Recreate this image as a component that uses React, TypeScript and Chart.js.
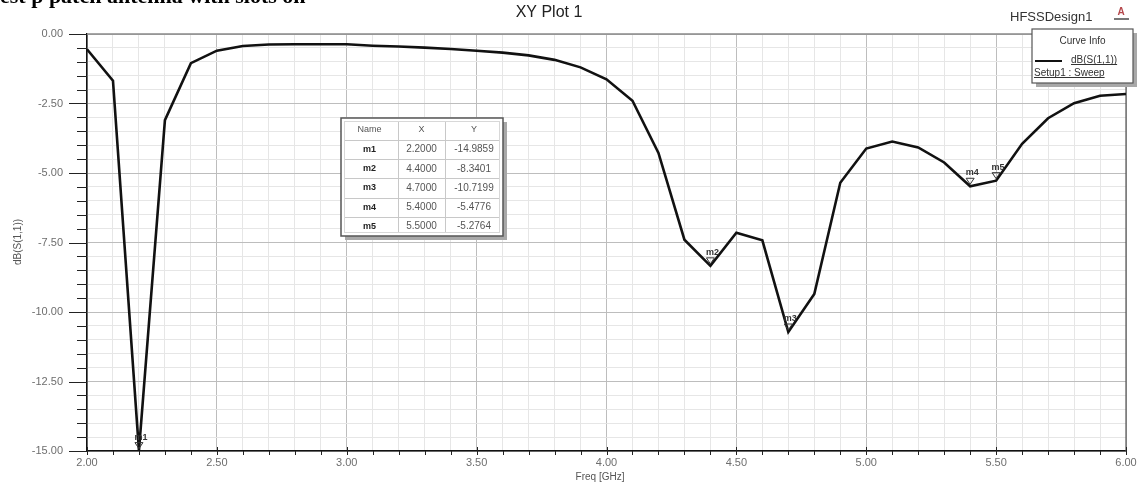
import React, { useEffect, useRef } from 'react';
import { Chart, registerables } from 'chart.js';

Chart.register(...registerables);

const freqGHz = [
  2.0, 2.1, 2.2, 2.3, 2.4, 2.5, 2.6, 2.7, 2.8, 2.9, 3.0,
  3.1, 3.2, 3.3, 3.4, 3.5, 3.6, 3.7, 3.8, 3.9, 4.0,
  4.1, 4.2, 4.3, 4.4, 4.5, 4.6, 4.7, 4.8, 4.9, 5.0,
  5.1, 5.2, 5.3, 5.4, 5.5, 5.6, 5.7, 5.8, 5.9, 6.0,
];
const s11dB = [
  -0.55, -1.68, -14.9859, -3.1, -1.05, -0.6, -0.43, -0.38, -0.37, -0.37, -0.37,
  -0.42, -0.45, -0.49, -0.54, -0.6, -0.67, -0.77, -0.93, -1.2, -1.63,
  -2.4, -4.28, -7.4, -8.3401, -7.15, -7.42, -10.7199, -9.35, -5.35, -4.12,
  -3.87, -4.08, -4.62, -5.4776, -5.2764, -3.95, -3.03, -2.49, -2.22, -2.16,
];

const markerNames = ['m1', 'm2', 'm3', 'm4', 'm5'];
const markerX = [2.2, 4.4, 4.7, 5.4, 5.5];
const markerY = [-14.9859, -8.3401, -10.7199, -5.4776, -5.2764];
const tableHeaders = ['Name', 'X', 'Y'];

const plotTitle = 'XY Plot 1';
const designName = 'HFSSDesign1';
const xAxisTitle = 'Freq [GHz]';
const yAxisTitle = 'dB(S(1,1))';
const legendTitle = 'Curve Info';
const legendTrace = 'dB(S(1,1))';
const legendSetup = 'Setup1 : Sweep';
const captionText = 'est p patch antenna with slots on';

const SANS = '"Liberation Sans", Arial, sans-serif';
const TICK_COLOR = '#6e6e6e';

const isMultiple = (v: number, step: number) => Math.abs(v / step - Math.round(v / step)) < 1e-6;

const underline = (ctx: CanvasRenderingContext2D, text: string, x: number, y: number) => {
  const w = ctx.measureText(text).width;
  ctx.beginPath();
  ctx.moveTo(x, y + 0.5);
  ctx.lineTo(x + w, y + 0.5);
  ctx.stroke();
};

const decorPlugin = {
  id: 'hfssDecor',
  beforeDatasetsDraw(chart: any) {
    const ctx: CanvasRenderingContext2D = chart.ctx;
    const xs = chart.scales.x;
    const ys = chart.scales.y;
    const area = chart.chartArea;
    ctx.save();
    ctx.strokeStyle = '#8a8a8a';
    ctx.lineWidth = 1.5;
    ctx.beginPath();
    ctx.moveTo(area.left, area.top);
    ctx.lineTo(area.right, area.top);
    ctx.stroke();
    ctx.strokeStyle = '#555';
    ctx.lineWidth = 1.2;
    ctx.beginPath();
    ctx.moveTo(area.right, area.top);
    ctx.lineTo(area.right, area.bottom);
    ctx.stroke();
    ctx.strokeStyle = '#222';
    ctx.lineWidth = 1;
    xs.ticks.forEach((t: any) => {
      const px = Math.round(xs.getPixelForValue(t.value)) + 0.5;
      const major = isMultiple(t.value, 0.5);
      ctx.beginPath();
      ctx.moveTo(px, area.bottom + (major ? -4 : 0));
      ctx.lineTo(px, area.bottom + 4);
      ctx.stroke();
    });
    ys.ticks.forEach((t: any) => {
      const py = Math.round(ys.getPixelForValue(t.value)) + 0.5;
      const major = isMultiple(t.value, 2.5);
      ctx.beginPath();
      ctx.moveTo(area.left - (major ? 18 : 10), py);
      ctx.lineTo(area.left, py);
      ctx.stroke();
    });
    ctx.restore();
  },
  afterDraw(chart: any) {
    const ctx: CanvasRenderingContext2D = chart.ctx;
    const xs = chart.scales.x;
    const ys = chart.scales.y;
    ctx.save();

    ctx.fillStyle = '#000';
    ctx.font = 'bold 22px "Liberation Serif", "Times New Roman", serif';
    ctx.textAlign = 'left';
    ctx.textBaseline = 'alphabetic';
    ctx.fillText(captionText, 0, 3);

    ctx.fillStyle = '#222';
    ctx.font = `16px ${SANS}`;
    ctx.textAlign = 'center';
    ctx.textBaseline = 'middle';
    ctx.fillText(plotTitle, 549, 13);

    ctx.font = `13px ${SANS}`;
    ctx.textAlign = 'left';
    ctx.fillStyle = '#333';
    ctx.fillText(designName, 1010, 17);

    ctx.fillStyle = '#b5474b';
    ctx.font = `bold 10px ${SANS}`;
    ctx.textAlign = 'center';
    ctx.fillText('A', 1121, 12);
    ctx.fillStyle = '#777';
    ctx.fillRect(1114, 18, 15, 2);

    ctx.fillStyle = '#555';
    ctx.font = `10px ${SANS}`;
    ctx.textAlign = 'center';
    ctx.fillText(xAxisTitle, 600, 477);
    ctx.save();
    ctx.translate(18, 242);
    ctx.rotate(-Math.PI / 2);
    ctx.fillText(yAxisTitle, 0, 0);
    ctx.restore();

    markerNames.forEach((name, i) => {
      const px = xs.getPixelForValue(markerX[i]);
      const py = ys.getPixelForValue(markerY[i]);
      ctx.strokeStyle = '#333';
      ctx.lineWidth = 1;
      ctx.beginPath();
      ctx.moveTo(px, py - 2);
      ctx.lineTo(px - 4, py - 8);
      ctx.lineTo(px + 4, py - 8);
      ctx.closePath();
      ctx.stroke();
      ctx.fillStyle = '#333';
      ctx.font = `bold 9px ${SANS}`;
      ctx.textAlign = 'center';
      ctx.textBaseline = 'alphabetic';
      ctx.fillText(name, px + 2, py - 11);
    });

    const tx = 341, ty = 118;
    const colW = [57, 47, 58];
    const headerH = 22, rowH = 19.2;
    const W = colW[0] + colW[1] + colW[2];
    const H = headerH + rowH * markerNames.length;
    ctx.fillStyle = '#a8a8a8';
    ctx.fillRect(tx + 4, ty + 4, W, H);
    ctx.fillStyle = '#fff';
    ctx.fillRect(tx, ty, W, H);
    ctx.strokeStyle = '#c8c8c8';
    ctx.lineWidth = 1;
    let cx = tx;
    for (let c = 0; c < colW.length - 1; c++) {
      cx += colW[c];
      ctx.beginPath();
      ctx.moveTo(Math.round(cx) + 0.5, ty + 3);
      ctx.lineTo(Math.round(cx) + 0.5, ty + H - 3);
      ctx.stroke();
    }
    for (let r = 0; r < markerNames.length; r++) {
      const ry = Math.round(ty + headerH + r * rowH) + 0.5;
      ctx.beginPath();
      ctx.moveTo(tx + 3, ry);
      ctx.lineTo(tx + W - 3, ry);
      ctx.stroke();
    }
    ctx.strokeStyle = '#d8d8d8';
    ctx.strokeRect(tx + 3.5, ty + 3.5, W - 7, H - 7);
    ctx.strokeStyle = '#555';
    ctx.lineWidth = 1.5;
    ctx.strokeRect(tx, ty, W, H);
    ctx.textAlign = 'center';
    ctx.textBaseline = 'middle';
    const colCenters = [tx + colW[0] / 2, tx + colW[0] + colW[1] / 2, tx + colW[0] + colW[1] + colW[2] / 2];
    ctx.fillStyle = '#555';
    ctx.font = `9px ${SANS}`;
    tableHeaders.forEach((h, c) => ctx.fillText(h, colCenters[c], ty + headerH / 2 + 1));
    markerNames.forEach((name, r) => {
      const cy = ty + headerH + r * rowH + rowH / 2;
      ctx.fillStyle = '#222';
      ctx.font = `bold 9px ${SANS}`;
      ctx.fillText(name, colCenters[0], cy);
      ctx.fillStyle = '#555';
      ctx.font = `10px ${SANS}`;
      ctx.fillText(markerX[r].toFixed(4), colCenters[1], cy);
      ctx.fillText(markerY[r].toFixed(4), colCenters[2], cy);
    });

    const lx = 1032, ly = 29, lw = 101, lh = 54;
    ctx.fillStyle = '#a8a8a8';
    ctx.fillRect(lx + 4, ly + 4, lw, lh);
    ctx.fillStyle = '#fff';
    ctx.fillRect(lx, ly, lw, lh);
    ctx.strokeStyle = '#555';
    ctx.lineWidth = 1.2;
    ctx.strokeRect(lx, ly, lw, lh);
    ctx.fillStyle = '#333';
    ctx.font = `10px ${SANS}`;
    ctx.textAlign = 'center';
    ctx.textBaseline = 'middle';
    ctx.fillText(legendTitle, lx + lw / 2, ly + 12);
    ctx.strokeStyle = '#111';
    ctx.lineWidth = 2;
    ctx.beginPath();
    ctx.moveTo(lx + 3, ly + 32);
    ctx.lineTo(lx + 30, ly + 32);
    ctx.stroke();
    ctx.textAlign = 'left';
    ctx.textBaseline = 'alphabetic';
    ctx.fillStyle = '#333';
    ctx.strokeStyle = '#333';
    ctx.lineWidth = 1;
    ctx.fillText(legendTrace, lx + 39, ly + 34);
    underline(ctx, legendTrace, lx + 39, ly + 35);
    ctx.fillText(legendSetup, lx + 2, ly + 47);
    underline(ctx, legendSetup, lx + 2, ly + 48);

    ctx.restore();
  },
};

export default function App() {
  const canvasRef = useRef<HTMLCanvasElement | null>(null);

  useEffect(() => {
    if (!canvasRef.current) return;
    const points = freqGHz.map((f, i) => ({ x: f, y: s11dB[i] }));
    const chart = new Chart(canvasRef.current, {
      type: 'line',
      data: {
        datasets: [
          {
            label: legendTrace,
            data: points,
            borderColor: '#111',
            borderWidth: 2.6,
            pointRadius: 0,
            tension: 0,
            fill: false,
          },
        ],
      },
      options: {
        animation: false,
        responsive: false,
        layout: { padding: { top: 34, right: 18, left: 0, bottom: 0 } },
        plugins: {
          legend: { display: false },
          tooltip: { enabled: false },
          title: { display: false },
        },
        scales: {
          x: {
            type: 'linear',
            min: 2,
            max: 6,
            afterFit(scale: any) {
              scale.height = 36;
            },
            ticks: {
              stepSize: 0.1,
              autoSkip: false,
              maxRotation: 0,
              minRotation: 0,
              padding: 5,
              color: TICK_COLOR,
              font: { family: SANS, size: 11 },
              callback: (v: any) => (isMultiple(Number(v), 0.5) ? Number(v).toFixed(2) : ''),
            },
            grid: {
              drawTicks: false,
              color: (c: any) => (c.tick && isMultiple(c.tick.value, 0.5) ? '#bdbdbd' : '#e6e6e6'),
              lineWidth: 1,
            },
            border: { color: '#111', width: 1.5 },
          },
          y: {
            type: 'linear',
            min: -15,
            max: 0,
            afterFit(scale: any) {
              scale.width = 87;
            },
            ticks: {
              stepSize: 0.5,
              autoSkip: false,
              padding: 24,
              color: TICK_COLOR,
              font: { family: SANS, size: 11 },
              callback: (v: any) => (isMultiple(Number(v), 2.5) ? Number(v).toFixed(2) : ''),
            },
            grid: {
              drawTicks: false,
              color: (c: any) => (c.tick && isMultiple(c.tick.value, 2.5) ? '#bdbdbd' : '#e6e6e6'),
              lineWidth: 1,
            },
            border: { color: '#111', width: 1.5 },
          },
        },
      },
      plugins: [decorPlugin],
    });
    return () => chart.destroy();
  }, []);

  return (
    <div style={{ position: 'fixed', left: 0, top: 0, width: 1144, height: 487, background: '#fff' }}>
      <canvas ref={canvasRef} width={1144} height={487} style={{ display: 'block' }} />
    </div>
  );
}
